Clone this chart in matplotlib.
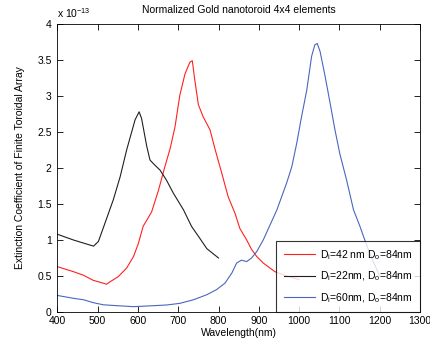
import matplotlib
matplotlib.use("Agg")
import matplotlib.pyplot as plt

plt.rcParams['font.family'] = ['Liberation Sans', 'DejaVu Sans']

# wavelength (nm) and extinction (x 1e-13)
wl_red = [400, 440, 465, 489, 514, 522, 531, 551, 572, 589, 601, 613, 634, 651, 667, 680,
          692, 704, 717, 729, 735, 740, 750, 762, 779, 791, 808, 824, 841, 853, 870, 882,
          895, 911, 940, 970, 1000]
ext_red = [0.63, 0.56, 0.51, 0.44, 0.40, 0.385, 0.42, 0.49, 0.61, 0.77, 0.95, 1.19, 1.39, 1.69,
           2.02, 2.27, 2.57, 3.01, 3.31, 3.47, 3.49, 3.27, 2.88, 2.71, 2.53, 2.27, 1.93, 1.60,
           1.37, 1.16, 1.00, 0.87, 0.77, 0.68, 0.56, 0.50, 0.45]

wl_black = [400, 440, 481, 490, 502, 518, 539, 556, 572, 593, 603, 609, 622, 630, 642, 655,
            671, 688, 713, 733, 754, 771, 800]
ext_black = [1.08, 1.00, 0.93, 0.915, 0.98, 1.23, 1.56, 1.88, 2.25, 2.67, 2.78, 2.69, 2.30,
             2.11, 2.04, 1.97, 1.83, 1.65, 1.42, 1.19, 1.02, 0.88, 0.75]

wl_blue = [400, 440, 465, 489, 514, 547, 589, 622, 671, 704, 738, 771, 795, 816, 833, 845,
           857, 870, 882, 895, 911, 928, 945, 969, 982, 994, 1006, 1019, 1031, 1039, 1045,
           1052, 1064, 1077, 1089, 1101, 1118, 1135, 1151, 1163, 1180, 1200]
ext_blue = [0.23, 0.19, 0.17, 0.13, 0.10, 0.088, 0.074, 0.083, 0.097, 0.12, 0.17, 0.24, 0.31,
            0.40, 0.54, 0.68, 0.72, 0.70, 0.75, 0.84, 1.00, 1.21, 1.42, 1.79, 2.02, 2.34, 2.71,
            3.08, 3.55, 3.71, 3.73, 3.62, 3.29, 2.90, 2.53, 2.20, 1.83, 1.42, 1.19, 1.00, 0.75,
            0.50]

labels = [r'D$_\mathregular{i}$=42 nm D$_\mathregular{o}$=84nm',
          r'D$_\mathregular{i}$=22nm, D$_\mathregular{o}$=84nm',
          r'D$_\mathregular{i}$=60nm, D$_\mathregular{o}$=84nm']
xticks = [400, 500, 600, 700, 800, 900, 1000, 1100, 1200, 1300]
yticks = [0, 0.5, 1, 1.5, 2, 2.5, 3, 3.5, 4]
ytick_labels = ['0', '0.5', '1', '1.5', '2', '2.5', '3', '3.5', '4']

fig = plt.figure(figsize=(4.3, 3.43), dpi=100)
ax = fig.add_axes([0.1333, 0.0904, 0.8434, 0.8396])
ax.plot(wl_red, ext_red, color='#ff2020', lw=0.8, label=labels[0])
ax.plot(wl_black, ext_black, color='#202020', lw=0.8, label=labels[1])
ax.plot(wl_blue, ext_blue, color='#4a67bd', lw=0.8, label=labels[2])

ax.set_xlim(400, 1300)
ax.set_ylim(0, 4)
ax.set_xticks(xticks)
ax.set_yticks(yticks)
ax.set_yticklabels(ytick_labels)
ax.tick_params(direction='in', top=True, right=True, labelsize=7.5, length=4, width=0.6)
ax.tick_params(axis='y', pad=4)
ax.tick_params(axis='x', pad=3)
for s in ax.spines.values():
    s.set_linewidth(0.6)

ax.set_title('Normalized Gold nanotoroid 4x4 elements', fontsize=7.5, pad=8)
ax.set_xlabel('Wavelength(nm)', fontsize=7.5, labelpad=1)
ax.set_ylabel('Extinction Coefficient of Finite Toroidal Array', fontsize=7.5, labelpad=9)
ax.text(0.0, 1.015, r'x 10$^{\mathregular{-13}}$', transform=ax.transAxes, fontsize=7.5,
        ha='left', va='bottom')

leg = ax.legend(loc='lower right', fontsize=7.5, frameon=True, fancybox=False,
                edgecolor='black', borderaxespad=0, handlelength=3.0, handletextpad=0.5,
                borderpad=0.7, labelspacing=0.75)
leg.get_frame().set_linewidth(0.8)

fig.savefig('out.png', dpi=100)
